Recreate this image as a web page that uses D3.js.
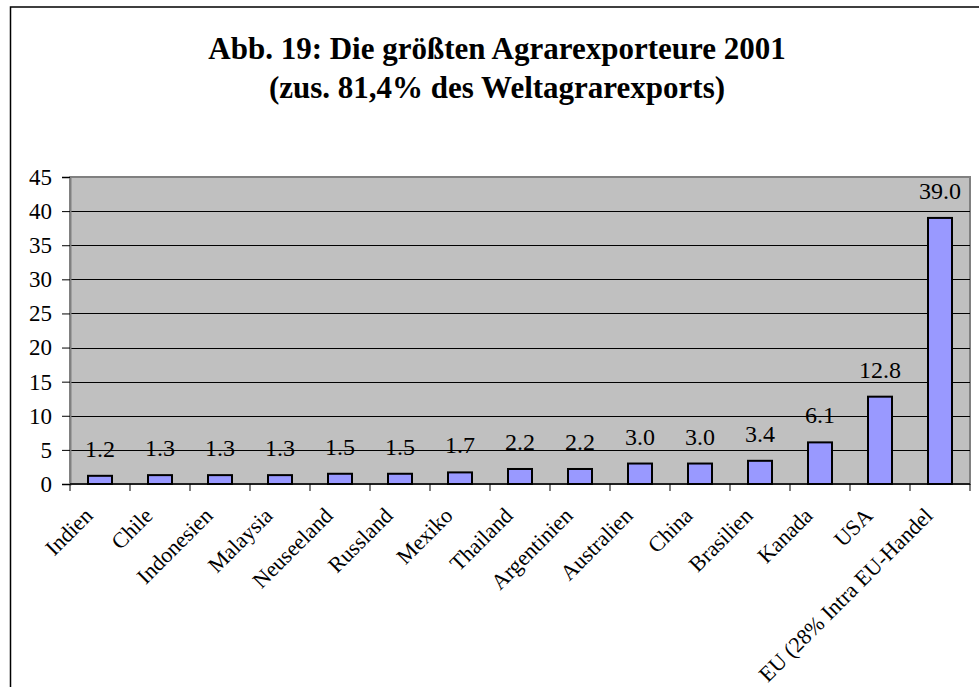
<!DOCTYPE html>
<html>
<head>
<meta charset="utf-8">
<script src="https://cdn.jsdelivr.net/npm/d3@7"></script>
<style>
  body { margin: 0; background: #fff; }
  svg, svg text { font-family: "Liberation Serif", "Times New Roman", "DejaVu Serif", serif !important; }
</style>
</head>
<body>
<div id="chart"></div>
<script>
const countries = ["Indien", "Chile", "Indonesien", "Malaysia", "Neuseeland", "Russland", "Mexiko",
    "Thailand", "Argentinien", "Australien", "China", "Brasilien", "Kanada", "USA", "EU (28% Intra EU-Handel"]
const shares = [1.2, 1.3, 1.3, 1.3, 1.5, 1.5, 1.7, 2.2, 2.2, 3.0, 3.0, 3.4, 6.1, 12.8, 39.0]
const yTicks = [0, 5, 10, 15, 20, 25, 30, 35, 40, 45]
const titleLines = ["Abb. 19: Die größten Agrarexporteure 2001", "(zus. 81,4% des Weltagrarexports)"]

const serif = "Liberation Serif"
const width = 979
const height = 687
const plot = {left: 70, right: 970, top: 177, bottom: 484}

const svg = d3.select("#chart")
    .append("svg")
    .attr("width", width)
    .attr("height", height)
    .attr("font-family", serif)

// outer chart frame (runs off the right and bottom of the picture)
svg.append("rect")
    .attr("x", 10.5).attr("y", 7)
    .attr("width", 990).attr("height", 700)
    .attr("fill", "#fff")
    .attr("stroke", "#000")
    .attr("stroke-width", 1.5)

svg.selectAll(".title")
    .data(titleLines)
    .enter().append("text")
    .attr("class", "title")
    .attr("x", 497)
    .attr("y", (d, i) => 59 + i * 39)
    .attr("text-anchor", "middle")
    .attr("font-family", serif)
    .attr("font-size", 31)
    .attr("font-weight", "bold")
    .text(d => d)

const x = d3.scaleBand()
    .domain(countries)
    .range([plot.left, plot.right])
    .paddingInner(0.6)
    .paddingOuter(0.3)

const y = d3.scaleLinear()
    .domain([0, 45])
    .range([plot.bottom, plot.top])

svg.append("rect")
    .attr("x", plot.left).attr("y", plot.top)
    .attr("width", plot.right - plot.left).attr("height", plot.bottom - plot.top)
    .attr("fill", "#c0c0c0")
    .attr("stroke", "#808080")
    .attr("stroke-width", 2)

// gridlines
svg.append("g")
    .selectAll("line")
    .data(yTicks.filter(t => t > 0 && t < 45))
    .enter().append("line")
    .attr("x1", plot.left).attr("x2", plot.right)
    .attr("y1", d => Math.round(y(d)) + 0.5).attr("y2", d => Math.round(y(d)) + 0.5)
    .attr("stroke", "#000")
    .attr("stroke-width", 1)

// y axis
const yAxis = svg.append("g")
    .attr("transform", `translate(${plot.left},0)`)
    .call(d3.axisLeft(y).tickValues(yTicks).tickSize(8).tickPadding(10))
    .attr("font-family", serif)
    .attr("font-size", 23)
yAxis.select(".domain").attr("stroke", "#808080").attr("stroke-width", 2)
yAxis.selectAll(".tick line").attr("stroke", "#000")
yAxis.selectAll(".tick text")
    .attr("font-family", serif)
    .attr("font-size", 23)
    .attr("fill", "#000")

// x axis, ticks on the band edges
const edges = countries.map(c => x(c) - x.step() * x.paddingInner() / 2).concat([plot.right])
const xAxis = svg.append("g")
svg.append("line")
    .attr("x1", plot.left).attr("x2", plot.right)
    .attr("y1", plot.bottom).attr("y2", plot.bottom)
    .attr("stroke", "#000")
    .attr("stroke-width", 1.5)
xAxis.selectAll("line")
    .data(edges)
    .enter().append("line")
    .attr("x1", d => d).attr("x2", d => d)
    .attr("y1", plot.bottom).attr("y2", plot.bottom + 7)
    .attr("stroke", "#000")

xAxis.selectAll("text")
    .data(countries)
    .enter().append("text")
    .attr("transform", d => `translate(${x(d) + x.bandwidth() / 2 - 6},${plot.bottom + 33}) rotate(-45)`)
    .attr("text-anchor", "end")
    .attr("font-family", serif)
    .attr("font-size", 22)
    .text(d => d)

// bars
svg.selectAll(".bar")
    .data(shares)
    .enter().append("rect")
    .attr("class", "bar")
    .attr("x", (d, i) => x(countries[i]))
    .attr("y", d => y(d))
    .attr("width", x.bandwidth())
    .attr("height", d => y(0) - y(d))
    .attr("fill", "#9999ff")
    .attr("stroke", "#000")
    .attr("stroke-width", 2)

svg.selectAll(".value")
    .data(shares)
    .enter().append("text")
    .attr("class", "value")
    .attr("x", (d, i) => x(countries[i]) + x.bandwidth() / 2)
    .attr("y", d => y(d) - 19)
    .attr("text-anchor", "middle")
    .attr("font-family", serif)
    .attr("font-size", 24)
    .text(d => d3.format(".1f")(d))
</script>
</body>
</html>
